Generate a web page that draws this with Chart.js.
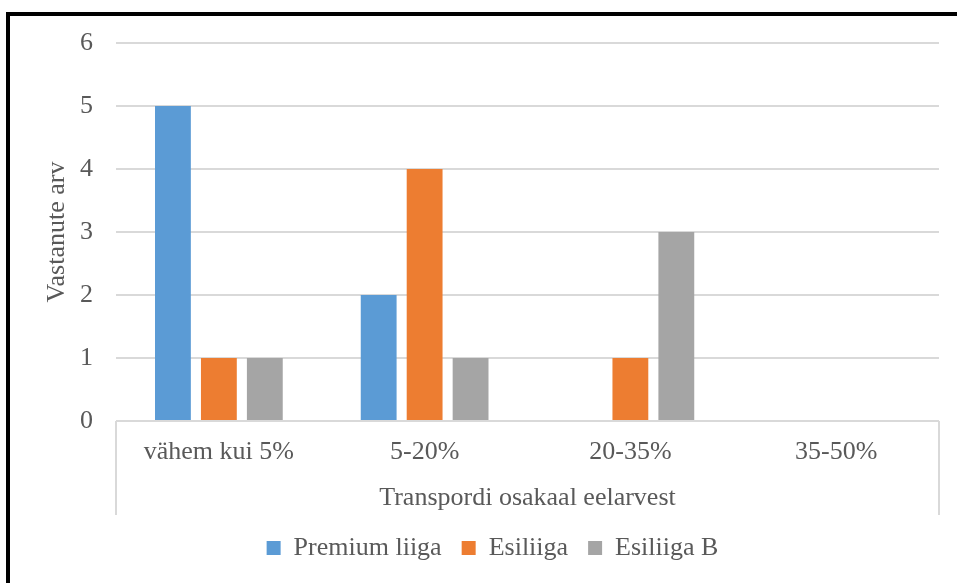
<!DOCTYPE html>
<html>
<head>
<meta charset="utf-8">
<script src="https://cdn.jsdelivr.net/npm/chart.js@4/dist/chart.umd.min.js"></script>
<style>
  html, body { margin: 0; padding: 0; overflow: hidden; background: #fff; }
  #wrap { position: relative; width: 957px; height: 583px; }
  #frame {
    position: absolute; left: 6px; top: 12px;
    width: 1000px; height: 700px;
    border: 4px solid #000; box-sizing: border-box;
    pointer-events: none;
  }
  canvas { position: absolute; left: 0; top: 0; }
</style>
</head>
<body>
<div id="wrap">
  <canvas id="chart" width="957" height="583"></canvas>
  <div id="frame"></div>
</div>
<script>
const categories = ['vähem kui 5%', '5-20%', '20-35%', '35-50%']
const premiumLiiga = [5, 2, 0, 0]
const esiliiga = [1, 4, 1, 0]
const esiliigaB = [1, 1, 3, 0]
const yTicks = [0, 1, 2, 3, 4, 5, 6]

const serif = 'Liberation Serif'
const textColor = '#595959'
const gridColor = '#d9d9d9'

// side lines of the category label box under the plot
const categoryBox = {
    id: 'categoryBox',
    afterDraw (chart) {
        const { ctx, chartArea } = chart
        const x = chart.scales.x
        ctx.save()
        ctx.strokeStyle = gridColor
        ctx.lineWidth = 2
        ctx.beginPath()
        ctx.moveTo(x.left, chartArea.bottom)
        ctx.lineTo(x.left, x.bottom)
        ctx.moveTo(x.right, chartArea.bottom)
        ctx.lineTo(x.right, x.bottom)
        ctx.stroke()
        ctx.restore()
    }
}

const bar = (label, data, color) => ({
    label,
    data,
    backgroundColor: color,
    borderWidth: 0,
    categoryPercentage: 0.67,
    barPercentage: 0.78
})

new Chart(document.getElementById('chart'), {
    type: 'bar',
    data: {
        labels: categories,
        datasets: [
            bar('Premium liiga', premiumLiiga, '#5b9bd5'),
            bar('Esiliiga', esiliiga, '#ed7d31'),
            bar('Esiliiga B', esiliigaB, '#a5a5a5')
        ]
    },
    options: {
        responsive: false,
        animation: false,
        layout: { padding: { left: 46, right: 18, top: 43, bottom: 12 } },
        plugins: {
            legend: {
                position: 'bottom',
                labels: {
                    boxWidth: 14,
                    boxHeight: 14,
                    padding: 20,
                    color: textColor,
                    font: { family: serif, size: 26 }
                }
            },
            tooltip: { enabled: false }
        },
        scales: {
            x: {
                grid: { display: false },
                border: { display: false },
                ticks: {
                    padding: 8,
                    color: textColor,
                    font: { family: serif, size: 26 }
                },
                title: {
                    display: true,
                    text: 'Transpordi osakaal eelarvest',
                    color: textColor,
                    font: { family: serif, size: 26 },
                    padding: { top: 0, bottom: 1 }
                },
                afterFit: (scale) => { scale.height = 94 }
            },
            y: {
                min: yTicks[0],
                max: yTicks[yTicks.length - 1],
                grid: { color: gridColor, lineWidth: 2, drawTicks: false },
                border: { display: false },
                afterBuildTicks: (scale) => { scale.ticks = yTicks.map(v => ({ value: v })) },
                ticks: {
                    padding: 23,
                    color: textColor,
                    font: { family: serif, size: 26 }
                },
                title: {
                    display: true,
                    text: 'Vastanute arv',
                    color: textColor,
                    font: { family: serif, size: 26 },
                    padding: { top: -4, bottom: 0 }
                },
                afterFit: (scale) => {
                    scale.width = 70
                    scale.paddingTop = 0
                    scale.paddingBottom = 0
                }
            }
        }
    },
    plugins: [categoryBox]
})
</script>
</body>
</html>
